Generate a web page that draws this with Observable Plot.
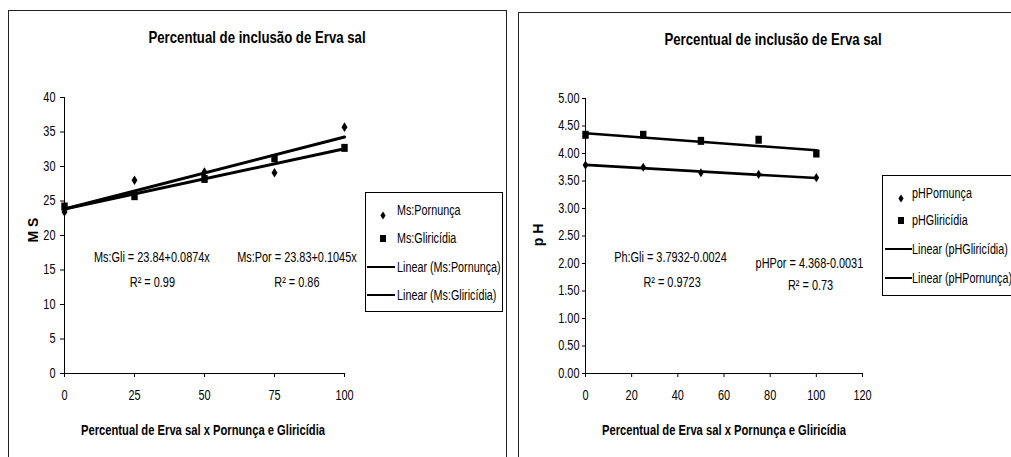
<!DOCTYPE html>
<html>
<head>
<meta charset="utf-8">
<script src="https://cdn.jsdelivr.net/npm/d3@7"></script>
<script src="https://cdn.jsdelivr.net/npm/@observablehq/plot@0.6"></script>
<style>
  body { margin: 0; background: #fff; }
  #root { position: relative; width: 1011px; height: 457px; overflow: hidden; background: #fff;
          font-family: "Liberation Sans", Arial, sans-serif; color: #000; }
  .abs { position: absolute; }
  .panel { position: absolute; border: 1.5px solid #222; box-sizing: border-box; }
  .title { position: absolute; font-weight: bold; white-space: nowrap; transform: translate(-50%, -50%) scaleX(0.8); transform-origin: center; }
  .ylab { position: absolute; font-weight: bold; font-size: 14px; white-space: nowrap; transform: translate(-50%, -50%) rotate(-90deg); }
  .legend { position: absolute; border: 1px solid #000; background: #fff; box-sizing: border-box; }
  .lg { position: absolute; font-size: 14px; white-space: nowrap; transform: translateY(-50%) scaleX(0.77); transform-origin: left center; }
  .chart { position: absolute; top: 0; }
</style>
</head>
<body>
<div id="root">
  <div class="panel" style="left:8px;top:10px;width:499px;height:470px;"></div>
  <div class="panel" style="left:518px;top:12px;width:520px;height:470px;"></div>
  <div id="c1" class="chart" style="left:0px;"></div>
  <div id="c2" class="chart" style="left:510px;"></div>
</div>
<script>
// ---------- data ----------
const chartTitle = "Percentual de inclusão de Erva sal";
const xAxisTitle = "Percentual de Erva sal x Pornunça e Gliricídia";

const inclusion = [0, 25, 50, 75, 100];

// Left chart: MS
const msPornunca   = [23.4, 28.0, 29.2, 29.1, 35.7];
const msGliricidia = [24.2, 25.7, 28.2, 31.2, 32.7];
const msTrendNames = ["Ms:Pornunça", "Ms:Gliricídia"];
const msIntercepts = [23.83, 23.84];
const msSlopes     = [0.1045, 0.0874];
const msXTicks = [0, 25, 50, 75, 100];
const msYTicks = [0, 5, 10, 15, 20, 25, 30, 35, 40];
const msLegend = ["Ms:Pornunça", "Ms:Gliricídia", "Linear (Ms:Pornunça)", "Linear (Ms:Gliricídia)"];
const msEquations = ["Ms:Gli = 23.84+0.0874x", "R² = 0.99", "Ms:Por = 23.83+0.1045x", "R² = 0.86"];

// Right chart: pH
const phPornunca   = [3.79, 3.75, 3.65, 3.62, 3.56];
const phGliricidia = [4.34, 4.34, 4.23, 4.25, 4.00];
const phIntercepts = [3.7932, 4.368];
const phSlopes     = [-0.0024, -0.0031];
const phXTicks = [0, 20, 40, 60, 80, 100, 120];
const phYTicks = [0, 0.5, 1, 1.5, 2, 2.5, 3, 3.5, 4, 4.5, 5];
const phLegend = ["pHPornunça", "pHGliricídia", "Linear (pHGliricídia)", "Linear (pHPornunça)"];
const phEquations = ["Ph:Gli = 3.7932-0.0024", "R² = 0.9723", "pHPor = 4.368-0.0031", "R² = 0.73"];

// ---------- helpers ----------
const FONT = '"Liberation Sans", Arial, sans-serif';
const K = 0.78; // horizontal condensing of text (narrow typeface look)
const tallDiamond = {
  draw(ctx, size) {
    const h = Math.sqrt(size / Math.PI);
    const w = h * 0.62;
    ctx.moveTo(0, -h); ctx.lineTo(w, 0); ctx.lineTo(0, h); ctx.lineTo(-w, 0); ctx.closePath();
  }
};
const tallSquare = {
  draw(ctx, size) {
    const h = Math.sqrt(size / Math.PI);
    const w = h * 0.8;
    ctx.moveTo(-w, -h); ctx.lineTo(w, -h); ctx.lineTo(w, h); ctx.lineTo(-w, h); ctx.closePath();
  }
};
function pts(xs, ys) { return xs.map((x, i) => ({x, y: ys[i]})); }
function trend(names, a, b, x0, x1) {
  return names.flatMap((n, i) => [x0, x1].map(x => ({series: n, x, y: a[i] + b[i] * x})));
}
function condense(svg, k) {
  svg.querySelectorAll("text").forEach(t => {
    const x = parseFloat(t.getAttribute("x")) || 0;
    const tr = t.getAttribute("transform") || "";
    t.setAttribute("transform", `${tr} translate(${x},0) scale(${k},1) translate(${-x},0)`);
  });
}

// ---------- left chart ----------
const left = Plot.plot({
  width: 510, height: 457,
  marginLeft: 64, marginRight: 166, marginTop: 97, marginBottom: 84,
  style: {fontFamily: FONT, fontSize: "14px", background: "transparent", color: "#000", overflow: "visible"},
  x: {domain: [0, 100], label: null},
  y: {domain: [0, 40], label: null},
  marks: [
    Plot.axisX({ticks: msXTicks, tickSize: 4, tickPadding: 13, label: null}),
    Plot.axisY({ticks: msYTicks, tickSize: 4, tickPadding: 5, label: null}),
    Plot.ruleY([0], {stroke: "#000", strokeWidth: 1}),
    Plot.ruleX([0], {stroke: "#000", strokeWidth: 1}),
    Plot.line(trend(msTrendNames, msIntercepts, msSlopes, 0, 100), {x: "x", y: "y", z: "series", stroke: "#000", strokeWidth: 3}),
    Plot.dot(pts(inclusion, msPornunca), {x: "x", y: "y", symbol: tallDiamond, r: 4.8, fill: "#000", stroke: "none"}),
    Plot.dot(pts(inclusion, msGliricidia), {x: "x", y: "y", symbol: tallSquare, r: 4, fill: "#000", stroke: "none"}),
    Plot.text([msEquations[0]], {x: 31.2, y: 16.8, fontSize: 14}),
    Plot.text([msEquations[1]], {x: 31.4, y: 13.2, fontSize: 14}),
    Plot.text([msEquations[2]], {x: 83, y: 16.8, fontSize: 14}),
    Plot.text([msEquations[3]], {x: 83, y: 13.2, fontSize: 14})
  ]
});
condense(left, K);
document.getElementById("c1").appendChild(left);

// ---------- right chart ----------
const right = Plot.plot({
  width: 501, height: 457,
  marginLeft: 75, marginRight: 149, marginTop: 98, marginBottom: 84,
  style: {fontFamily: FONT, fontSize: "14px", background: "transparent", color: "#000", overflow: "visible"},
  x: {domain: [0, 120], label: null},
  y: {domain: [0, 5], label: null},
  marks: [
    Plot.axisX({ticks: phXTicks, tickSize: 4, tickPadding: 13, label: null}),
    Plot.axisY({ticks: phYTicks, tickFormat: d3.format(".2f"), tickSize: 3, tickPadding: 3, label: null}),
    Plot.ruleY([0], {stroke: "#000", strokeWidth: 1}),
    Plot.ruleX([0], {stroke: "#000", strokeWidth: 1}),
    Plot.line(trend(["Pornunça", "Gliricídia"], phIntercepts, phSlopes, 0, 100), {x: "x", y: "y", z: "series", stroke: "#000", strokeWidth: 2.6}),
    Plot.dot(pts(inclusion, phPornunca), {x: "x", y: "y", symbol: tallDiamond, r: 4.6, fill: "#000", stroke: "none"}),
    Plot.dot(pts(inclusion, phGliricidia), {x: "x", y: "y", symbol: tallSquare, r: 4, fill: "#000", stroke: "none"}),
    Plot.text([phEquations[0]], {x: 36.8, y: 2.11, fontSize: 14}),
    Plot.text([phEquations[1]], {x: 37.5, y: 1.65, fontSize: 14}),
    Plot.text([phEquations[2]], {x: 97, y: 2.0, fontSize: 14}),
    Plot.text([phEquations[3]], {x: 97.5, y: 1.6, fontSize: 14})
  ]
});
condense(right, K);
document.getElementById("c2").appendChild(right);

// ---------- titles, axis labels, legends ----------
const root = document.getElementById("root");
function addDiv(cls, style, text) {
  const d = document.createElement("div");
  d.className = cls; d.setAttribute("style", style);
  if (text != null) d.textContent = text;
  root.appendChild(d); return d;
}
addDiv("title", "left:257px;top:37px;font-size:16.5px;", chartTitle);
addDiv("title", "left:773px;top:39px;font-size:16.5px;", chartTitle);
addDiv("title", "left:203px;top:430px;font-size:14px;", xAxisTitle);
addDiv("title", "left:724px;top:430px;font-size:14px;", xAxisTitle);
addDiv("ylab", "left:33px;top:230px;", "M S");
addDiv("ylab", "left:538px;top:235px;", "p H");

function legend(boxLeft, boxTop, boxW, boxH, labels, ys, markX, lineX0, lineX1, textX) {
  addDiv("legend", `left:${boxLeft}px;top:${boxTop}px;width:${boxW}px;height:${boxH}px;`);
  labels.forEach((lab, i) => {
    const y = ys[i];
    if (i === 0) {
      const s = addDiv("abs", `left:${markX - 3}px;top:${y - 4.5}px;width:6px;height:9px;`);
      s.innerHTML = '<svg width="6" height="9"><path d="M3,0.5L5.6,4.5L3,8.5L0.4,4.5Z" fill="#000"/></svg>';
    } else if (i === 1) {
      addDiv("abs", `left:${markX - 3}px;top:${y - 3.5}px;width:6px;height:7px;background:#000;`);
    } else {
      addDiv("abs", `left:${lineX0}px;top:${y - 1.25}px;width:${lineX1 - lineX0}px;height:2.5px;background:#000;`);
    }
    addDiv("lg", `left:${textX}px;top:${y}px;`, lab);
  });
}
legend(365, 192, 138, 120, msLegend, [210, 238, 267, 295], 383, 367, 395, 397);
legend(882, 175, 140, 121, phLegend, [193, 220, 249, 278], 901, 885, 912, 912);
</script>
</body>
</html>
